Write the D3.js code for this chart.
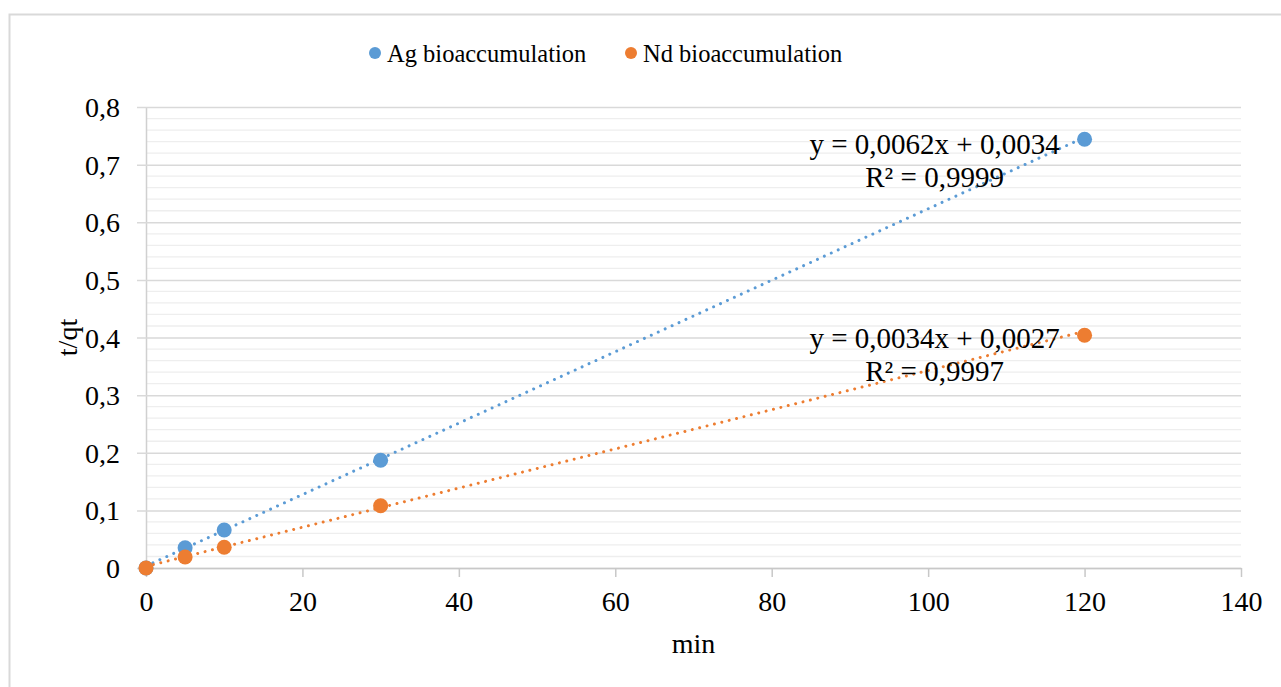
<!DOCTYPE html>
<html>
<head>
<meta charset="utf-8">
<script src="https://cdn.jsdelivr.net/npm/d3@7"></script>
<style>
  body { margin: 0; background: #fff; }
</style>
</head>
<body>
<div id="chart"></div>
<script>
// data
var times = [0, 5, 10, 30, 120]
var agValues = [0, 0.035, 0.066, 0.187, 0.744]
var ndValues = [0, 0.019, 0.036, 0.108, 0.404]
var seriesNames = ["Ag bioaccumulation", "Nd bioaccumulation"]
var seriesColors = ["#5B9BD5", "#ED7D31"]
var fits = [
  {slope: 0.0062, intercept: 0.0034, eq: "y = 0,0062x + 0,0034", r2: "R² = 0,9999"},
  {slope: 0.0034, intercept: 0.0027, eq: "y = 0,0034x + 0,0027", r2: "R² = 0,9997"}
]
var xTicks = [0, 20, 40, 60, 80, 100, 120, 140]
var yTicks = [0, 0.1, 0.2, 0.3, 0.4, 0.5, 0.6, 0.7, 0.8]

var serif = "Liberation Serif"
var width = 1281, height = 687
var margin = {left: 146, right: 40, top: 107, bottom: 119}

var svg = d3.select("#chart")
  .append("svg")
  .attr("width", width)
  .attr("height", height)
  .attr("font-family", serif)

// chart border
svg.append("rect")
  .attr("x", 9.5).attr("y", 14.5)
  .attr("width", 1300).attr("height", 700)
  .attr("fill", "none")
  .attr("stroke", "#d9d9d9")
  .attr("stroke-width", 2)

var x = d3.scaleLinear().domain([0, 140]).range([margin.left, width - margin.right])
var y = d3.scaleLinear().domain([0, 0.8]).range([height - margin.bottom, margin.top])

var fmt = d => d3.format("")(+d.toFixed(1)).replace(".", ",")

// minor gridlines
var minor = d3.range(0.02, 0.8, 0.02).filter(v => Math.abs(v * 10 - Math.round(v * 10)) > 0.01)
svg.append("g")
  .selectAll("line")
  .data(minor)
  .enter()
  .append("line")
  .attr("x1", x(0)).attr("x2", x(140))
  .attr("y1", d => y(d)).attr("y2", d => y(d))
  .attr("stroke", "#eeeeee")
  .attr("stroke-width", 1.3)

// y axis with major gridlines
svg.append("g")
  .attr("transform", "translate(" + x(0) + ",0)")
  .call(d3.axisLeft(y).tickValues(yTicks).tickFormat(fmt).tickSizeInner(-(x(140) - x(0))).tickSizeOuter(0).tickPadding(0))
  .call(g => g.select(".domain").attr("stroke", "#d0d0d0").attr("stroke-width", 1.5))
  .call(g => g.selectAll(".tick line").attr("stroke", "#d9d9d9").attr("stroke-width", 1.5).attr("x1", -9))
  .call(g => g.selectAll(".tick text").attr("x", -26).attr("dy", "0.34em").attr("fill", "#000").attr("font-size", 28))

// x axis
svg.append("g")
  .attr("transform", "translate(0," + y(0) + ")")
  .call(d3.axisBottom(x).tickValues(xTicks).tickSizeInner(9).tickSizeOuter(0).tickPadding(14))
  .call(g => g.select(".domain").attr("stroke", "#c8c8c8").attr("stroke-width", 1.5))
  .call(g => g.selectAll(".tick line").attr("stroke", "#c8c8c8").attr("stroke-width", 1.5))
  .call(g => g.selectAll(".tick text").attr("dy", "0.71em").attr("fill", "#000").attr("font-size", 28))

// axis titles
svg.append("text")
  .attr("x", (x(0) + x(140)) / 2)
  .attr("y", 653)
  .attr("text-anchor", "middle")
  .attr("font-size", 28)
  .text("min")

svg.append("text")
  .attr("transform", "translate(77," + y(0.4) + ") rotate(-90)")
  .attr("text-anchor", "middle")
  .attr("font-size", 28)
  .text("t/qt")

// trendlines
var allValues = [agValues, ndValues]
fits.forEach(function(f, i) {
  svg.append("line")
    .attr("x1", x(0)).attr("y1", y(f.intercept))
    .attr("x2", x(120)).attr("y2", y(f.slope * 120 + f.intercept))
    .attr("stroke", seriesColors[i])
    .attr("stroke-width", 3)
    .attr("stroke-linecap", "round")
    .attr("stroke-dasharray", "0.01 7.6")
})

// points
allValues.forEach(function(vals, i) {
  svg.append("g")
    .selectAll("circle")
    .data(times.map((t, j) => [t, vals[j]]))
    .enter()
    .append("circle")
    .attr("cx", d => x(d[0]))
    .attr("cy", d => y(d[1]))
    .attr("r", 7.5)
    .attr("fill", seriesColors[i])
})

// trendline labels, placed off the end of each fit
fits.forEach(function(f, i) {
  var endY = y(f.slope * 120 + f.intercept)
  var g = svg.append("g")
  g.append("text").attr("x", x(120) - 150).attr("y", endY + 17).text(f.eq)
  g.append("text").attr("x", x(120) - 150).attr("y", endY + 50).text(f.r2)
  g.selectAll("text").attr("text-anchor", "middle").attr("font-size", 29)
})

// legend
var legendX = [375, 631]
var legend = svg.append("g")
  .selectAll("g")
  .data(seriesNames)
  .enter()
  .append("g")
  .attr("transform", (d, i) => "translate(" + legendX[i] + ",53)")
legend.append("circle")
  .attr("r", 6)
  .attr("fill", (d, i) => seriesColors[i])
legend.append("text")
  .attr("x", 12)
  .attr("y", 9)
  .attr("font-size", 24.5)
  .text(d => d)

svg.selectAll("text").attr("font-family", serif)
</script>
</body>
</html>
